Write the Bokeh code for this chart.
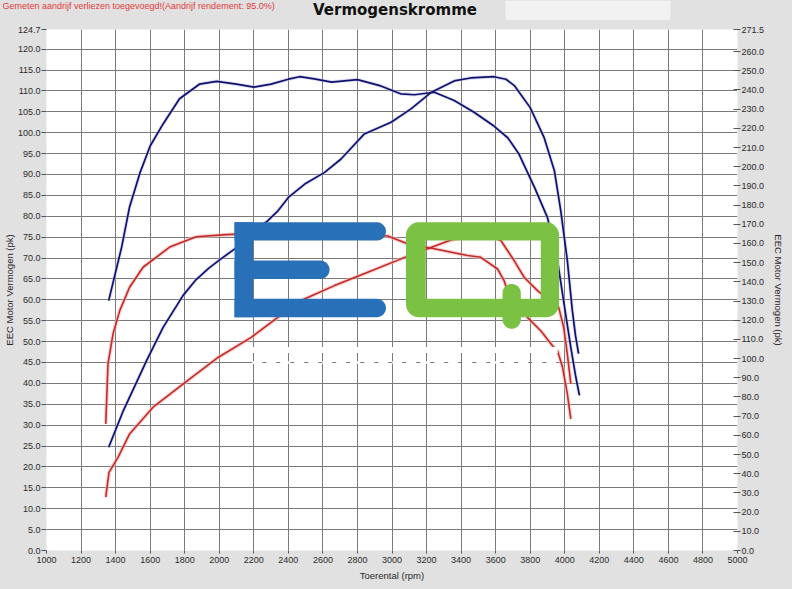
import numpy as np
from bokeh.plotting import figure
from bokeh.layouts import column, row
from bokeh.models import Range1d, LinearAxis, FixedTicker, NumeralTickFormatter
from bokeh.core.properties import value
from bokeh.embed import file_html
from bokeh.resources import INLINE

# ---------------- data ----------------
# blue run: power (pk, left axis)
rpm_pk_blauw = [1360, 1445, 1580, 1675, 1790, 1865, 1940, 2010, 2090, 2180, 2280, 2340, 2400,
                2495, 2610, 2705, 2840, 2995, 3110, 3225, 3360, 3455, 3590, 3660, 3710,
                3800, 3880, 3940, 3977, 4015, 4044, 4062, 4080]
pk_blauw = [24.7, 33.5, 45.5, 53.4, 61.0, 64.8, 67.6, 69.8, 72.2, 75.8, 78.9, 81.3, 84.5,
            87.7, 90.5, 93.7, 99.7, 102.5, 105.7, 109.6, 112.4, 113.1, 113.4, 112.8, 111.2,
            106.0, 98.9, 90.9, 81.3, 69.4, 57.4, 51.5, 47.1]

# blue run: torque (Nm, right axis)
rpm_nm_blauw = [1360, 1435, 1480, 1540, 1600, 1675, 1770, 1885, 1985, 2100, 2200, 2300,
                2400, 2465, 2550, 2650, 2800, 2935, 3050, 3130, 3245, 3360, 3475, 3590,
                3670, 3735, 3825, 3900, 3958, 3996, 4035, 4064, 4085]
nm_blauw = [130.2, 158.1, 178.7, 196.5, 210.8, 222.3, 235.4, 243.0, 244.5, 243.0, 241.5, 243.0,
            245.6, 246.9, 245.8, 244.1, 245.4, 242.1, 238.0, 237.5, 238.8, 234.5, 228.4, 221.2,
            215.1, 206.6, 189.2, 173.5, 151.1, 128.5, 105.8, 90.4, 80.8]

# red run: power (pk, left axis)
rpm_pk_rood = [1343, 1362, 1414, 1481, 1617, 1805, 1993, 2185, 2339, 2493, 2667, 2860,
               3052, 3206, 3341, 3450, 3550, 3630, 3707, 3765, 3842, 3965, 3994, 4015, 4035]
pk_rood = [12.8, 18.7, 22.3, 27.9, 34.3, 40.3, 46.2, 51.0, 55.8, 60.2, 63.4, 66.6,
           69.8, 72.2, 74.3, 75.2, 75.4, 74.2, 69.4, 65.4, 62.2, 58.2, 53.4, 47.0, 39.9]

# red run: torque (Nm, right axis)
rpm_nm_rood = [1343, 1356, 1385, 1424, 1481, 1559, 1713, 1867, 2040, 2300, 2600, 2975,
               3090, 3245, 3438, 3514, 3611, 3649, 3668, 3784, 3861, 3929, 3958, 3987, 4015, 4035]
nm_rood = [66.0, 97.3, 112.8, 125.0, 137.2, 147.6, 158.1, 163.5, 164.6, 165.5, 165.7, 163.9,
           159.8, 157.2, 153.7, 152.8, 146.7, 140.6, 135.4, 121.5, 114.5, 106.7, 104.1, 95.6, 81.6, 68.6]

rpm_ticks = list(range(1000, 5001, 200))
pk_ticks = [i * 5.0 for i in range(25)] + [124.7]
nm_ticks = [i * 10.0 for i in range(27)] + [271.5]

title_text = "Vermogenskromme"
note_text = "Gemeten aandrijf verliezen toegevoegd!(Aandrijf rendement: 95.0%)"
x_label = "Toerental (rpm)"
y_label = "EEC Motor Vermogen (pk)"
y2_label = "EEC Torque (Nm)"

# ---------------- layout (page pixels) ----------------
W, H = 792, 589
STRIP = 20                      # header strip height
FL, FR, FT, FB = 45, 737, 29, 550
X0, X1 = 1000, 5000
Y0, Y1 = 0.0, 124.7
T0, T1 = 0.0, 271.5

BG = "#e1e1e1"
BLUE = "#10106f"
RED = "#c22a28"
FONT = "Liberation Sans"


def xd(px):
    return X0 + (px - FL) * (X1 - X0) / (FR - FL)


def yd(py):
    return Y0 + (FB - py) * (Y1 - Y0) / (FB - FT)


# ---------------- header strip with the texts ----------------
top = figure(width=W, height=STRIP, output_backend="svg", toolbar_location=None,
             x_range=Range1d(0, W), y_range=Range1d(STRIP, 0),
             x_axis_type=None, y_axis_type=None, min_border=0,
             background_fill_color=BG, border_fill_color=BG, outline_line_color=None)
top.grid.visible = False
top.quad(left=[505], right=[670], top=[0], bottom=[STRIP], fill_color="#f2f2f2", line_color=None)
top.text(x=[394.5], y=[9.5], text=[title_text], text_font=value("DejaVu Sans"),
         text_font_size=value("15px"), text_font_style=value("bold"), text_color="#111111",
         text_align="center", text_baseline="middle")
top.text(x=[2], y=[5.5], text=[note_text], text_font=value(FONT),
         text_font_size=value("9px"), text_color="#e03a3a",
         text_align="left", text_baseline="middle")

# ---------------- main chart ----------------
p = figure(width=W, height=H - STRIP, output_backend="svg", toolbar_location=None,
           x_range=Range1d(X0, X1), y_range=Range1d(Y0, Y1),
           min_border_left=FL, min_border_right=W - FR,
           min_border_top=FT - STRIP, min_border_bottom=H - FB,
           background_fill_color="white", border_fill_color=BG,
           outline_line_color=None)
p.extra_y_ranges = {"nm": Range1d(T0, T1)}

xt = FixedTicker(ticks=rpm_ticks)
yt = FixedTicker(ticks=pk_ticks)
p.xaxis.ticker = xt
p.yaxis.ticker = yt
p.xgrid.ticker = xt
p.ygrid.ticker = yt
p.xaxis.formatter = NumeralTickFormatter(format="0")
p.yaxis.formatter = NumeralTickFormatter(format="0.0")
for g in (p.xgrid, p.ygrid):
    g.grid_line_color = "#7a7a7a"
    g.grid_line_width = 1

ax2 = LinearAxis(y_range_name="nm", ticker=FixedTicker(ticks=nm_ticks),
                 formatter=NumeralTickFormatter(format="0.0"), axis_label=y2_label)
p.add_layout(ax2, "right")

p.xaxis.axis_label = x_label
p.yaxis.axis_label = y_label

for ax in (p.xaxis[0], p.yaxis[0], ax2):
    ax.axis_line_color = None
    ax.major_tick_line_color = "#555555"
    ax.minor_tick_line_color = None
    ax.major_label_text_font = FONT
    ax.major_label_text_font_size = "9px"
    ax.major_label_text_color = "#2a2a2a"
    ax.axis_label_text_font = FONT
    ax.axis_label_text_font_size = "9.5px"
    ax.axis_label_text_font_style = "normal"
    ax.axis_label_text_color = "#2a2a2a"

p.yaxis.major_tick_out = 5
p.yaxis.major_tick_in = 0
p.yaxis.major_label_standoff = 1
p.yaxis.axis_label_standoff = 0

p.xaxis.major_tick_out = 3
p.xaxis.major_tick_in = 0
p.xaxis.major_label_standoff = 3
p.xaxis.axis_label_standoff = 4

ax2.major_tick_out = 3
ax2.major_tick_in = 4
ax2.major_label_standoff = 1
ax2.axis_label_standoff = 6

# ---------------- curves ----------------
p.line(rpm_pk_rood, pk_rood, line_color="#f2b5b5", line_width=4, line_alpha=0.6)
p.line(rpm_nm_rood, nm_rood, y_range_name="nm", line_color="#f2b5b5", line_width=4, line_alpha=0.6)
p.line(rpm_pk_blauw, pk_blauw, line_color="#b9b9e2", line_width=3.5, line_alpha=0.5)
p.line(rpm_nm_blauw, nm_blauw, y_range_name="nm", line_color="#b9b9e2", line_width=3.5, line_alpha=0.5)

p.line(rpm_pk_rood, pk_rood, line_color=RED, line_width=1.6, line_join="round")
p.line(rpm_nm_rood, nm_rood, y_range_name="nm", line_color=RED, line_width=1.6, line_join="round")
p.line(rpm_pk_blauw, pk_blauw, line_color=BLUE, line_width=1.7, line_join="round")
p.line(rpm_nm_blauw, nm_blauw, y_range_name="nm", line_color=BLUE, line_width=1.7, line_join="round")

# ---------------- EQ logo (decoration, pixel geometry) ----------------


def arc(cx, cy, r, a0, a1, n=12):
    a = np.radians(np.linspace(a0, a1, n))
    return list(zip(cx + r * np.cos(a), cy + r * np.sin(a)))


def bar_round_right(x0, y0, x1, y1):
    r = (y1 - y0) / 2
    return [(x0, y0), (x1 - r, y0)] + arc(x1 - r, (y0 + y1) / 2, r, -90, 90) + [(x1 - r, y1), (x0, y1)]


def stadium_v(x0, y0, x1, y1):
    r = (x1 - x0) / 2
    cx = (x0 + x1) / 2
    return arc(cx, y0 + r, r, 180, 360) + arc(cx, y1 - r, r, 0, 180)


def rounded_rect(x0, y0, x1, y1, r):
    return (arc(x1 - r, y0 + r, r, -90, 0) + arc(x1 - r, y1 - r, r, 0, 90)
            + arc(x0 + r, y1 - r, r, 90, 180) + arc(x0 + r, y0 + r, r, 180, 270))


def to_data(pts):
    return [xd(a) for a, b in pts], [yd(b) for a, b in pts]


E_parts = [
    [(233.3, 221.7), (251.8, 221.7), (251.8, 316.7), (233.3, 316.7)],
    bar_round_right(233.3, 221.7, 385.0, 240.1),
    bar_round_right(233.3, 260.0, 328.5, 278.4),
    bar_round_right(233.3, 298.3, 385.0, 316.7),
]
exs, eys = zip(*[to_data(pp) for pp in E_parts])
p.patches(list(exs), list(eys), fill_color="#2870b8", line_color=None)

outer = to_data(rounded_rect(405.0, 221.7, 558.3, 316.7, 13))
inner = to_data([(424.8, 240.0), (540.0, 240.0), (540.0, 298.3), (424.8, 298.3)])
p.multi_polygons(xs=[[[outer[0], inner[0]]]], ys=[[[outer[1], inner[1]]]],
                 fill_color="#7bc143", line_color=None)
tail = to_data(stadium_v(501.7, 283.3, 520.0, 328.3))
p.patch(tail[0], tail[1], fill_color="#7bc143", line_color=None)

# faint white tagline under the logo
p.line([xd(251), xd(557)], [yd(349.5), yd(349.5)], line_color="white", line_width=6)
p.line([xd(251), xd(557)], [yd(362), yd(362)], line_color="white", line_width=2.5, line_dash="10 4")

layout = column(row(top), p, spacing=0)
html = file_html(layout, INLINE, title=title_text)
html = html.replace("<head>", "<head><style>html,body{margin:0;padding:0;background:#e1e1e1;overflow:hidden}</style>", 1)
open("out.html", "w").write(html)
